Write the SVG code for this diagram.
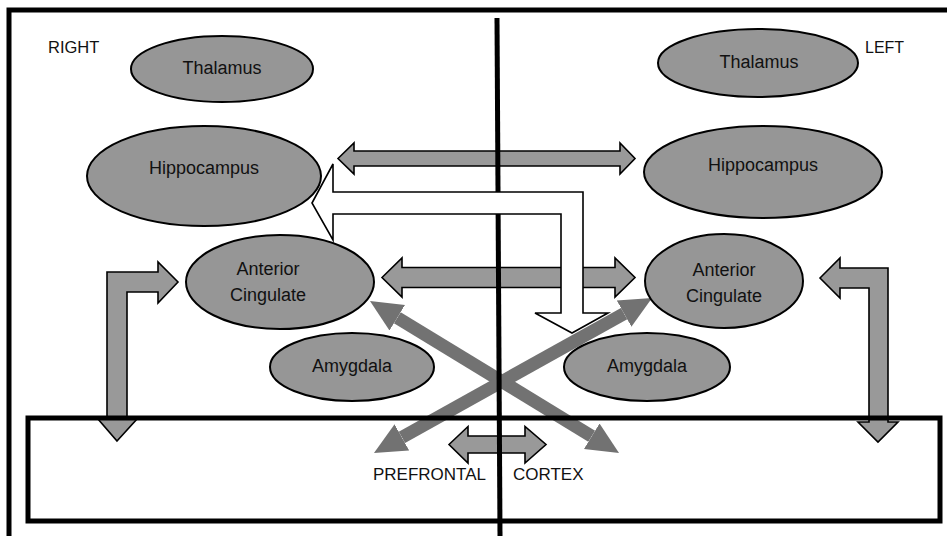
<svg xmlns="http://www.w3.org/2000/svg" width="947" height="536" viewBox="0 0 947 536">
<style>
  .frame { fill: none; stroke: #000; stroke-width: 5; }
  .block { fill: #999999; stroke: #000; stroke-width: 1.6; stroke-linejoin: miter; }
  .hollow { fill: #ffffff; stroke: #000; stroke-width: 1.6; }
  .xarrow { stroke: #727272; stroke-width: 13; fill: none; }
  .node ellipse { fill: #969696; stroke: #000; stroke-width: 2; }
  .lbl { font-family: "Liberation Sans", Arial, sans-serif; font-size: 18px; fill: #111; text-anchor: middle; }
  .side { font-family: "Liberation Sans", Arial, sans-serif; fill: #111; }
</style>
<defs>
  <marker id="xhead" markerUnits="userSpaceOnUse" markerWidth="34" markerHeight="32" refX="0" refY="15" orient="auto-start-reverse" viewBox="0 0 34 30">
    <path d="M0,0 L32,15 L0,30 Z" fill="#727272"/>
  </marker>
</defs>
<rect width="947" height="536" fill="#ffffff"/>

<!-- outer frame (top and left visible) -->
<path class="frame" d="M9,536 L9,10 L947,10"/>

<g id="connectors">
  <!-- Hippocampus <-> Hippocampus -->
  <polygon class="block" points="338,158.5 354,143 354,151 620,151 620,143 635,158.5 620,174 620,166 354,166 354,174"/>
  <!-- Anterior Cingulate <-> Anterior Cingulate -->
  <polygon class="block" points="382,277.5 402,258 402,267.5 615,267.5 615,258 635,277.5 615,297 615,287.5 402,287.5 402,297"/>
  <!-- Right bent arrow -->
  <polygon class="block" points="117,441 137,419 127,419 127,292 158,292 158,303 178,282 158,262 158,272 107,272 107,419 98,419"/>
  <!-- Left bent arrow -->
  <polygon class="block" points="820,278 840,258 840,268 888,268 888,422 898,422 878,442 858,422 869,422 869,288 840,288 840,298"/>
  <!-- Prefrontal <-> Cortex -->
  <polygon class="block" points="449,444.5 468,426.5 468,436 525,436 525,426.5 546,444.5 525,463 525,453 468,453 468,463"/>
  <!-- crossing arrows -->
  <line class="xarrow" x1="397.3" y1="317.7" x2="591.7" y2="436.3" marker-start="url(#xhead)" marker-end="url(#xhead)"/>
  <line class="xarrow" x1="401.9" y1="437.4" x2="624.1" y2="313.6" marker-start="url(#xhead)" marker-end="url(#xhead)"/>
</g>

<!-- hemisphere divider -->
<line x1="497" y1="18" x2="500" y2="536" stroke="#000" stroke-width="5"/>

<g id="connector-hollow">
  <polygon class="hollow" points="312,203 333,164 333,192 583,192 583,313 608,313 572,333 535,313 561,313 561,214 333,214 333,240"/>
</g>

<g id="thalamus-right" class="node">
  <ellipse cx="222" cy="69" rx="91" ry="33"/>
  <text class="lbl" x="222" y="74">Thalamus</text>
</g>
<g id="thalamus-left" class="node">
  <ellipse cx="758" cy="63" rx="100" ry="34"/>
  <text class="lbl" x="759" y="68">Thalamus</text>
</g>
<g id="hippocampus-right" class="node">
  <ellipse cx="204" cy="176" rx="117" ry="50"/>
  <text class="lbl" x="204" y="174">Hippocampus</text>
</g>
<g id="hippocampus-left" class="node">
  <ellipse cx="763" cy="172" rx="119" ry="46"/>
  <text class="lbl" x="763" y="171">Hippocampus</text>
</g>
<g id="anterior-cingulate-right" class="node">
  <ellipse cx="280" cy="282" rx="94" ry="47"/>
  <text class="lbl" x="268" y="275">Anterior</text>
  <text class="lbl" x="268" y="301">Cingulate</text>
</g>
<g id="anterior-cingulate-left" class="node">
  <ellipse cx="724" cy="281" rx="79" ry="47"/>
  <text class="lbl" x="724" y="276">Anterior</text>
  <text class="lbl" x="724" y="302">Cingulate</text>
</g>
<g id="amygdala-right" class="node">
  <ellipse cx="352" cy="367" rx="82" ry="34"/>
  <text class="lbl" x="352" y="372">Amygdala</text>
</g>
<g id="amygdala-left" class="node">
  <ellipse cx="647" cy="367" rx="83" ry="34"/>
  <text class="lbl" x="647" y="372">Amygdala</text>
</g>

<g id="prefrontal-cortex">
  <rect class="frame" x="28" y="418" width="912" height="103"/>
  <text class="side" x="373" y="480" font-size="17">PREFRONTAL</text>
  <text class="side" x="513" y="480" font-size="17">CORTEX</text>
</g>

<text class="side" x="48" y="53" font-size="16.5">RIGHT</text>
<text class="side" x="865" y="53" font-size="16">LEFT</text>
</svg>
